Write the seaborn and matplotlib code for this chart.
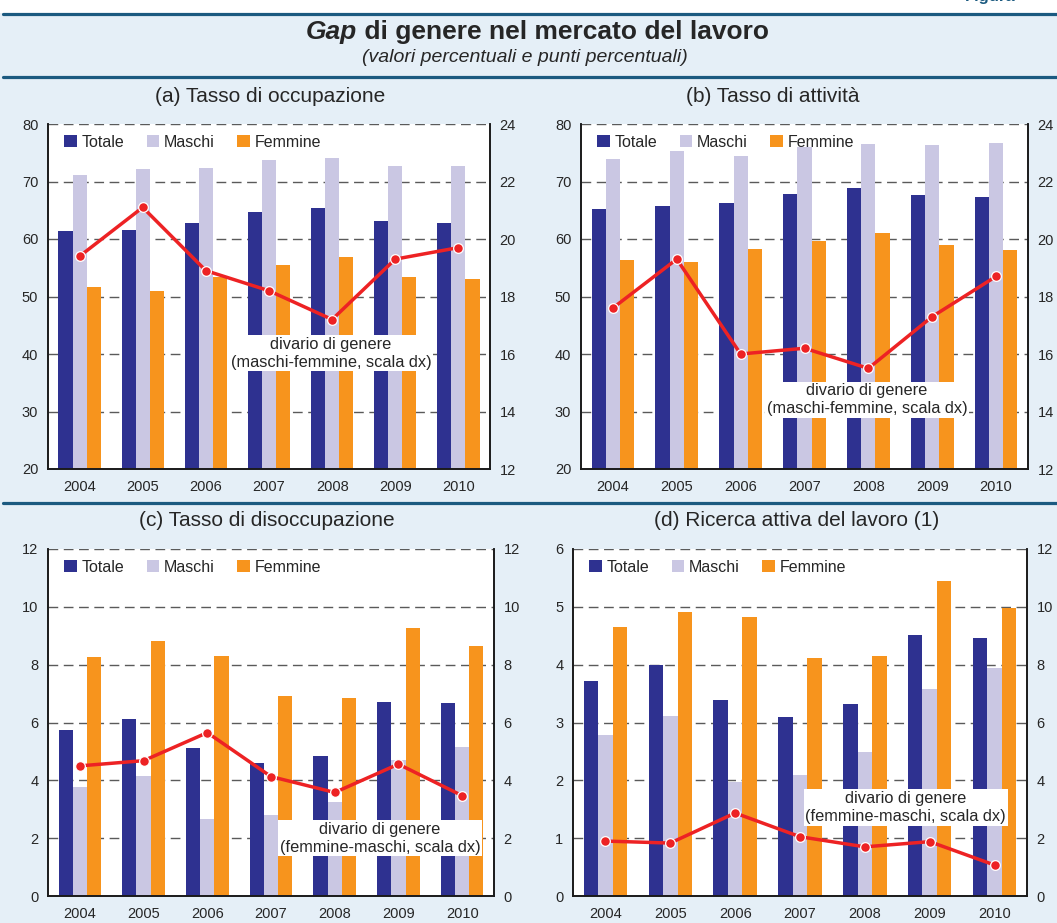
import numpy as np
import pandas as pd
import seaborn as sns
import matplotlib.pyplot as plt
from matplotlib.lines import Line2D
from matplotlib.patches import Rectangle

# --- Dati ---
ANNI = ["2004", "2005", "2006", "2007", "2008", "2009", "2010"]
SERIE = ["Totale", "Maschi", "Femmine"]

# (a) tasso di occupazione
occ_totale = [61.4, 61.6, 62.8, 64.7, 65.4, 63.1, 62.8]
occ_maschi = [71.1, 72.2, 72.3, 73.7, 74.1, 72.7, 72.7]
occ_femmine = [51.7, 51.0, 53.4, 55.5, 56.9, 53.4, 53.0]
occ_divario = [19.4, 21.1, 18.9, 18.2, 17.2, 19.3, 19.7]

# (b) tasso di attivita'
att_totale = [65.2, 65.7, 66.3, 67.8, 68.9, 67.7, 67.3]
att_maschi = [73.9, 75.3, 74.4, 76.0, 76.5, 76.3, 76.7]
att_femmine = [56.3, 56.0, 58.3, 59.7, 61.1, 59.0, 58.1]
att_divario = [17.6, 19.3, 16.0, 16.2, 15.5, 17.3, 18.7]

# (c) tasso di disoccupazione
dis_totale = [5.73, 6.12, 5.11, 4.59, 4.83, 6.70, 6.67]
dis_maschi = [3.76, 4.14, 2.65, 2.79, 3.24, 4.70, 5.15]
dis_femmine = [8.26, 8.82, 8.30, 6.91, 6.84, 9.27, 8.64]
dis_divario = [4.50, 4.68, 5.65, 4.13, 3.58, 4.56, 3.47]

# (d) ricerca attiva del lavoro
ric_totale = [3.72, 4.00, 3.39, 3.09, 3.32, 4.51, 4.46]
ric_maschi = [2.78, 3.11, 1.97, 2.09, 2.49, 3.58, 3.94]
ric_femmine = [4.65, 4.91, 4.82, 4.11, 4.15, 5.45, 4.98]
ric_divario = [1.90, 1.83, 2.87, 2.05, 1.70, 1.88, 1.07]

# --- Stile ---
COLORI = {"Totale": "#2e3190", "Maschi": "#cac7e3", "Femmine": "#f7941d"}
ROSSO = "#ed2224"
SFONDO = "#e5eff7"
BLU_LINEA = "#1b5a80"

sns.set_theme(style="white")
plt.rcParams["font.family"] = ["Liberation Sans", "DejaVu Sans"]

W, H = 1057, 923
fig = plt.figure(figsize=(W / 100, H / 100), dpi=100)
fig.patch.set_facecolor(SFONDO)


def px_box(l, t, r, b):
    return [l / W, 1 - b / H, (r - l) / W, (b - t) / H]


# fascia bianca in alto e linee di separazione
fig.add_artist(Rectangle((0, 1 - 13 / H), 1, 13 / H, transform=fig.transFigure,
                         facecolor="white", edgecolor="none", zorder=0))
for ypx in [14, 77, 503]:
    fig.add_artist(Line2D([0.003, 1], [1 - ypx / H] * 2, transform=fig.transFigure,
                          color=BLU_LINEA, linewidth=2.3))
fig.text(1015 / W, 1 - 1.0 / H, "Figura", ha="right", va="baseline",
         fontsize=12, fontweight="bold", color=BLU_LINEA)

# titolo principale: "Gap" in corsivo + resto in grassetto
r = fig.canvas.get_renderer()
t1 = fig.text(0, 1 - 32 / H, "Gap", fontsize=19, fontweight="bold", style="italic",
              va="center", ha="left")
t2 = fig.text(0, 1 - 32 / H, " di genere nel mercato del lavoro", fontsize=19,
              fontweight="bold", va="center", ha="left")
w1 = t1.get_window_extent(r).width
w2 = t2.get_window_extent(r).width
x0 = 537.5 - (w1 + w2) / 2
t1.set_x(x0 / W)
t2.set_x((x0 + w1) / W)
fig.text(525 / W, 1 - 57 / H, "(valori percentuali e punti percentuali)", fontsize=14,
         style="italic", ha="center", va="center")


def pannello(box, titolo, tpos, totale, maschi, femmine, divario,
             lim_sx, tick_sx, lim_dx, tick_dx, nota, nota_xy):
    ax = fig.add_axes(px_box(*box))
    ax.set_facecolor("white")
    df = pd.DataFrame({
        "anno": ANNI * 3,
        "serie": np.repeat(SERIE, len(ANNI)),
        "valore": totale + maschi + femmine,
    })
    sns.barplot(data=df, x="anno", y="valore", hue="serie", hue_order=SERIE,
                palette=COLORI, width=0.67, saturation=1, legend=False, ax=ax,
                linewidth=0, edgecolor="none")
    ax.set_ylim(*lim_sx)
    ax.set_yticks(tick_sx)
    ax.set_axisbelow(True)
    ax.yaxis.grid(True, linestyle=(0, (7, 4)), color="#5a5a5a", linewidth=1)
    ax.xaxis.grid(False)
    ax.set_xlabel("")
    ax.set_ylabel("")
    ax.tick_params(axis="y", length=0, labelsize=10.5, pad=7)
    ax.tick_params(axis="x", length=0, labelsize=10.5, pad=8)
    ax.legend(ax.containers[:3], SERIE, loc="upper left", bbox_to_anchor=(0.0, 1.015),
              ncol=3, frameon=False, fontsize=11.5, handlelength=0.8, handleheight=0.8,
              handletextpad=0.3, columnspacing=1.4, borderpad=0.5)

    ax2 = ax.twinx()
    sns.pointplot(x=ANNI, y=divario, color=ROSSO, errorbar=None, ax=ax2,
                  marker="o", markersize=7, markeredgecolor="white",
                  markeredgewidth=0.9, linewidth=2.5, zorder=4)
    ax2.set_ylim(*lim_dx)
    ax2.set_yticks(tick_dx)
    ax2.set_ylabel("")
    ax2.set_xlabel("")
    ax2.tick_params(axis="y", length=0, labelsize=10.5, pad=7)
    ax.set_xlim(-0.5, len(ANNI) - 0.5)
    ax2.text(nota_xy[0], nota_xy[1], nota, transform=ax2.transAxes, ha="center",
             va="center", fontsize=11.8, linespacing=1.25, zorder=3,
             bbox=dict(facecolor="white", edgecolor="none", boxstyle="square,pad=0.1"))

    for a in (ax, ax2):
        a.spines["top"].set_visible(False)
        for s in ("left", "right", "bottom"):
            a.spines[s].set_color("#1a1a1a")
            a.spines[s].set_linewidth(1.2)

    fig.text(tpos[0] / W, 1 - tpos[1] / H, titolo, fontsize=15, ha="center", va="center")


pannello((48, 124, 490, 469), "(a) Tasso di occupazione", (270, 96),
         occ_totale, occ_maschi, occ_femmine, occ_divario,
         (20, 80), range(20, 81, 10), (12, 24), range(12, 25, 2),
         "divario di genere\n(maschi-femmine, scala dx)", (0.64, 0.336))

pannello((581, 124, 1028, 469), "(b) Tasso di attività", (773, 96),
         att_totale, att_maschi, att_femmine, att_divario,
         (20, 80), range(20, 81, 10), (12, 24), range(12, 25, 2),
         "divario di genere\n(maschi-femmine, scala dx)", (0.64, 0.201))

pannello((48, 549, 494, 896), "(c) Tasso di disoccupazione", (267, 521),
         dis_totale, dis_maschi, dis_femmine, dis_divario,
         (0, 12), range(0, 13, 2), (0, 12), range(0, 13, 2),
         "divario di genere\n(femmine-maschi, scala dx)", (0.744, 0.167))

pannello((573, 549, 1027, 896), "(d) Ricerca attiva del lavoro (1)", (797, 521),
         ric_totale, ric_maschi, ric_femmine, ric_divario,
         (0, 6), range(0, 7, 1), (0, 12), range(0, 13, 2),
         "divario di genere\n(femmine-maschi, scala dx)", (0.733, 0.255))

fig.savefig("out.png", dpi=100, facecolor=fig.get_facecolor())
